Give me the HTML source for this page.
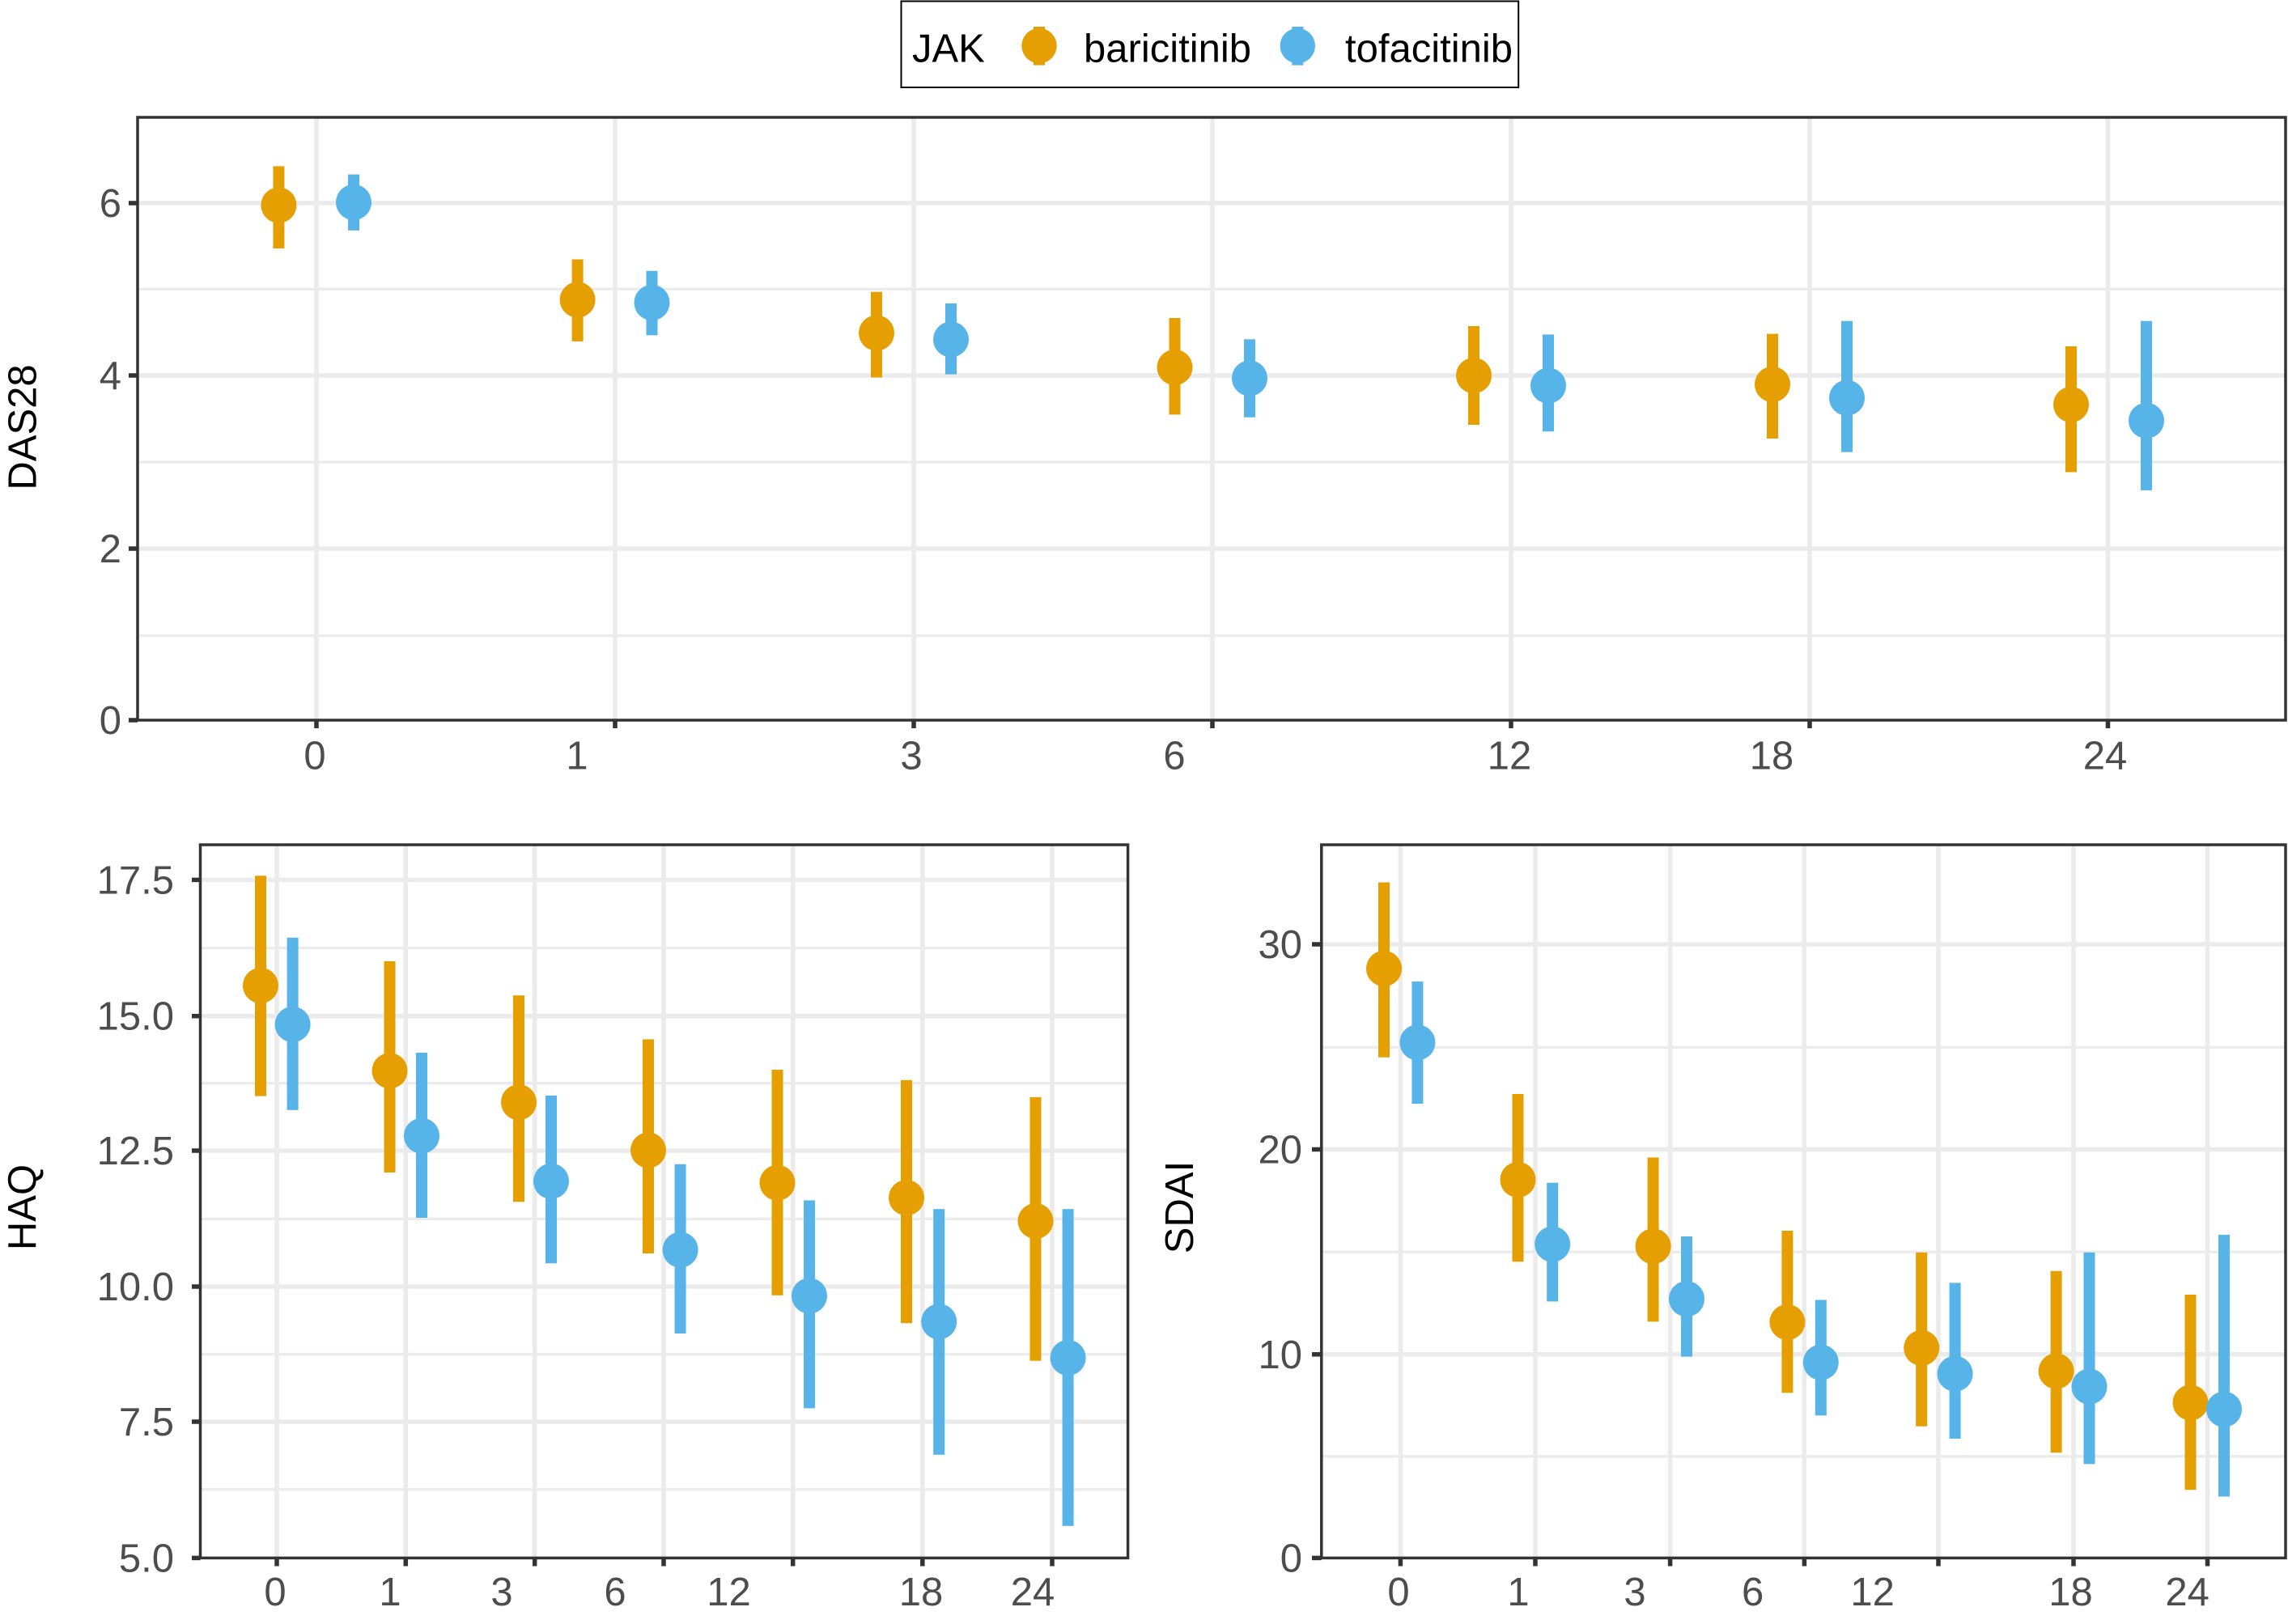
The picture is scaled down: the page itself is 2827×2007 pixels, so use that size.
<!DOCTYPE html>
<html>
<head>
<meta charset="utf-8">
<style>
html,body{margin:0;padding:0;background:#fff;}
svg{display:block;}
text{font-family:"Liberation Sans",Arial,Helvetica,sans-serif;}
</style>
</head>
<body>
<svg width="2827" height="2007" viewBox="0 0 2827 2007" xmlns="http://www.w3.org/2000/svg">
<rect x="0" y="0" width="2827" height="2007" fill="#fff"/>

<!-- ===== Legend ===== -->
<rect x="1113.5" y="1.5" width="762.7" height="106.5" fill="#fff" stroke="#000" stroke-width="2"/>
<text x="1127" y="76.5" font-size="49" fill="#000">JAK</text>
<rect x="1277" y="33" width="14" height="47.6" fill="#E69F00"/>
<circle cx="1284" cy="56.6" r="21.7" fill="#E69F00"/>
<text x="1339" y="76.5" font-size="49" fill="#000">baricitinib</text>
<rect x="1596.3" y="33" width="14" height="47.6" fill="#56B4E9"/>
<circle cx="1603.3" cy="56.6" r="21.7" fill="#56B4E9"/>
<text x="1662" y="76.5" font-size="49" fill="#000">tofacitinib</text>

<!-- ===== Top panel (DAS28) ===== -->
<g stroke="#EBEBEB">
  <g stroke-width="3.3">
    <line x1="170" y1="785.7" x2="2824" y2="785.7"/>
    <line x1="170" y1="571" x2="2824" y2="571"/>
    <line x1="170" y1="357.3" x2="2824" y2="357.3"/>
  </g>
  <g stroke-width="5.5">
    <line x1="170" y1="678" x2="2824" y2="678"/>
    <line x1="170" y1="464" x2="2824" y2="464"/>
    <line x1="170" y1="251" x2="2824" y2="251"/>
    <line x1="391" y1="145" x2="391" y2="890"/>
    <line x1="760" y1="145" x2="760" y2="890"/>
    <line x1="1129" y1="145" x2="1129" y2="890"/>
    <line x1="1498" y1="145" x2="1498" y2="890"/>
    <line x1="1867" y1="145" x2="1867" y2="890"/>
    <line x1="2236" y1="145" x2="2236" y2="890"/>
    <line x1="2604.5" y1="145" x2="2604.5" y2="890"/>
  </g>
</g>
<g fill="#E69F00">
  <rect x="337.4" y="205.4" width="14" height="101.6"/><circle cx="344.4" cy="253.6" r="22"/>
  <rect x="706.6" y="320.5" width="14" height="101.4"/><circle cx="713.6" cy="370.5" r="22"/>
  <rect x="1076" y="360.7" width="14" height="105.8"/><circle cx="1083" cy="411.6" r="22"/>
  <rect x="1444.5" y="393" width="14" height="119.4"/><circle cx="1451.5" cy="454" r="22"/>
  <rect x="1814" y="403" width="14" height="122"/><circle cx="1821" cy="464.1" r="22"/>
  <rect x="2183" y="412.6" width="14" height="129.4"/><circle cx="2190" cy="475" r="22"/>
  <rect x="2552" y="428" width="14" height="155.5"/><circle cx="2559" cy="500" r="22"/>
</g>
<g fill="#56B4E9">
  <rect x="430" y="215.6" width="14" height="69.2"/><circle cx="437" cy="250" r="22"/>
  <rect x="798.5" y="334.8" width="14" height="79.5"/><circle cx="805.5" cy="374" r="22"/>
  <rect x="1168" y="375" width="14" height="87.6"/><circle cx="1175" cy="419.5" r="22"/>
  <rect x="1537" y="419.3" width="14" height="96.4"/><circle cx="1544" cy="467.4" r="22"/>
  <rect x="1906" y="413.4" width="14" height="119.8"/><circle cx="1913" cy="476.6" r="22"/>
  <rect x="2275" y="396.7" width="14" height="162"/><circle cx="2282" cy="491.7" r="22"/>
  <rect x="2645" y="396.7" width="14" height="209.2"/><circle cx="2652" cy="519.8" r="22"/>
</g>
<rect x="170" y="145" width="2654" height="745" fill="none" stroke="#333333" stroke-width="3.5"/>
<g stroke="#333333" stroke-width="5.5">
  <line x1="159" y1="890" x2="170" y2="890"/>
  <line x1="159" y1="678" x2="170" y2="678"/>
  <line x1="159" y1="464" x2="170" y2="464"/>
  <line x1="159" y1="251" x2="170" y2="251"/>
  <line x1="391" y1="890" x2="391" y2="900"/>
  <line x1="760" y1="890" x2="760" y2="900"/>
  <line x1="1129" y1="890" x2="1129" y2="900"/>
  <line x1="1498" y1="890" x2="1498" y2="900"/>
  <line x1="1867" y1="890" x2="1867" y2="900"/>
  <line x1="2236" y1="890" x2="2236" y2="900"/>
  <line x1="2604.5" y1="890" x2="2604.5" y2="900"/>
</g>
<g font-size="49" fill="#4D4D4D" text-anchor="end">
  <text x="150" y="907">0</text>
  <text x="150" y="695">2</text>
  <text x="150" y="481">4</text>
  <text x="150" y="268">6</text>
</g>
<g font-size="49" fill="#4D4D4D" text-anchor="middle">
  <text x="389" y="950.5">0</text>
  <text x="713" y="950.5">1</text>
  <text x="1126" y="950.5">3</text>
  <text x="1451" y="950.5">6</text>
  <text x="1865" y="950.5">12</text>
  <text x="2189" y="950.5">18</text>
  <text x="2601" y="950.5">24</text>
</g>
<text transform="translate(44.5,528) rotate(-90)" font-size="49" fill="#000" text-anchor="middle">DAS28</text>

<!-- ===== Bottom-left panel (HAQ) ===== -->
<g stroke="#EBEBEB">
  <g stroke-width="3.3">
    <line x1="247.5" y1="1171.5" x2="1393.6" y2="1171.5"/>
    <line x1="247.5" y1="1338.7" x2="1393.6" y2="1338.7"/>
    <line x1="247.5" y1="1506.3" x2="1393.6" y2="1506.3"/>
    <line x1="247.5" y1="1673.5" x2="1393.6" y2="1673.5"/>
    <line x1="247.5" y1="1840.7" x2="1393.6" y2="1840.7"/>
  </g>
  <g stroke-width="5.5">
    <line x1="247.5" y1="1087.4" x2="1393.6" y2="1087.4"/>
    <line x1="247.5" y1="1255.7" x2="1393.6" y2="1255.7"/>
    <line x1="247.5" y1="1422" x2="1393.6" y2="1422"/>
    <line x1="247.5" y1="1590" x2="1393.6" y2="1590"/>
    <line x1="247.5" y1="1757" x2="1393.6" y2="1757"/>
    <line x1="342" y1="1044" x2="342" y2="1925.4"/>
    <line x1="501.3" y1="1044" x2="501.3" y2="1925.4"/>
    <line x1="660.7" y1="1044" x2="660.7" y2="1925.4"/>
    <line x1="820" y1="1044" x2="820" y2="1925.4"/>
    <line x1="979.7" y1="1044" x2="979.7" y2="1925.4"/>
    <line x1="1139.8" y1="1044" x2="1139.8" y2="1925.4"/>
    <line x1="1300" y1="1044" x2="1300" y2="1925.4"/>
  </g>
</g>
<g fill="#E69F00">
  <rect x="315" y="1082.3" width="14" height="272.3"/><circle cx="322" cy="1218" r="22"/>
  <rect x="474.5" y="1188" width="14" height="261"/><circle cx="481.5" cy="1323.3" r="22"/>
  <rect x="634" y="1230.2" width="14" height="255.1"/><circle cx="641" cy="1362.2" r="22"/>
  <rect x="794" y="1284.4" width="14" height="264.6"/><circle cx="801" cy="1421.5" r="22"/>
  <rect x="953.5" y="1322" width="14" height="278.8"/><circle cx="960.5" cy="1461.7" r="22"/>
  <rect x="1113" y="1334.8" width="14" height="300.4"/><circle cx="1120" cy="1480.2" r="22"/>
  <rect x="1272.5" y="1355.9" width="14" height="325.8"/><circle cx="1279.5" cy="1509" r="22"/>
</g>
<g fill="#56B4E9">
  <rect x="354.6" y="1158.8" width="14" height="213"/><circle cx="361.6" cy="1266" r="22"/>
  <rect x="514" y="1301" width="14" height="204"/><circle cx="521" cy="1403.7" r="22"/>
  <rect x="674" y="1354" width="14" height="207.2"/><circle cx="681" cy="1459.8" r="22"/>
  <rect x="833.6" y="1438.8" width="14" height="209.2"/><circle cx="840.6" cy="1544.6" r="22"/>
  <rect x="993" y="1483.4" width="14" height="257"/><circle cx="1000" cy="1601.4" r="22"/>
  <rect x="1153.2" y="1494.2" width="14" height="303.6"/><circle cx="1160.2" cy="1633.3" r="22"/>
  <rect x="1312.6" y="1494.2" width="14" height="391.6"/><circle cx="1319.6" cy="1678" r="22"/>
</g>
<rect x="247.5" y="1044" width="1146.1" height="881.4" fill="none" stroke="#333333" stroke-width="3.5"/>
<g stroke="#333333" stroke-width="5.5">
  <line x1="237" y1="1087.4" x2="247.5" y2="1087.4"/>
  <line x1="237" y1="1255.7" x2="247.5" y2="1255.7"/>
  <line x1="237" y1="1422" x2="247.5" y2="1422"/>
  <line x1="237" y1="1590" x2="247.5" y2="1590"/>
  <line x1="237" y1="1757" x2="247.5" y2="1757"/>
  <line x1="237" y1="1925.4" x2="247.5" y2="1925.4"/>
  <line x1="342" y1="1925.4" x2="342" y2="1935.5"/>
  <line x1="501.3" y1="1925.4" x2="501.3" y2="1935.5"/>
  <line x1="660.7" y1="1925.4" x2="660.7" y2="1935.5"/>
  <line x1="820" y1="1925.4" x2="820" y2="1935.5"/>
  <line x1="979.7" y1="1925.4" x2="979.7" y2="1935.5"/>
  <line x1="1139.8" y1="1925.4" x2="1139.8" y2="1935.5"/>
  <line x1="1300" y1="1925.4" x2="1300" y2="1935.5"/>
</g>
<g font-size="49" fill="#4D4D4D" text-anchor="end">
  <text x="215" y="1104.4">17.5</text>
  <text x="215" y="1272.7">15.0</text>
  <text x="215" y="1439">12.5</text>
  <text x="215" y="1607">10.0</text>
  <text x="215" y="1774">7.5</text>
  <text x="215" y="1942.4">5.0</text>
</g>
<g font-size="49" fill="#4D4D4D" text-anchor="middle">
  <text x="340" y="1984">0</text>
  <text x="482" y="1984">1</text>
  <text x="620" y="1984">3</text>
  <text x="760" y="1984">6</text>
  <text x="900.5" y="1984">12</text>
  <text x="1138" y="1984">18</text>
  <text x="1276" y="1984">24</text>
</g>
<text transform="translate(44,1492) rotate(-90)" font-size="49" fill="#000" text-anchor="middle">HAQ</text>

<!-- ===== Bottom-right panel (SDAI) ===== -->
<g stroke="#EBEBEB">
  <g stroke-width="3.3">
    <line x1="1632.8" y1="1294.3" x2="2824" y2="1294.3"/>
    <line x1="1632.8" y1="1547.2" x2="2824" y2="1547.2"/>
    <line x1="1632.8" y1="1799.8" x2="2824" y2="1799.8"/>
  </g>
  <g stroke-width="5.5">
    <line x1="1632.8" y1="1167" x2="2824" y2="1167"/>
    <line x1="1632.8" y1="1420.5" x2="2824" y2="1420.5"/>
    <line x1="1632.8" y1="1673.8" x2="2824" y2="1673.8"/>
    <line x1="1730.4" y1="1044" x2="1730.4" y2="1925.4"/>
    <line x1="1897" y1="1044" x2="1897" y2="1925.4"/>
    <line x1="2063.6" y1="1044" x2="2063.6" y2="1925.4"/>
    <line x1="2229.4" y1="1044" x2="2229.4" y2="1925.4"/>
    <line x1="2395" y1="1044" x2="2395" y2="1925.4"/>
    <line x1="2562" y1="1044" x2="2562" y2="1925.4"/>
    <line x1="2727.5" y1="1044" x2="2727.5" y2="1925.4"/>
  </g>
</g>
<g fill="#E69F00">
  <rect x="1703" y="1090.5" width="14" height="216.2"/><circle cx="1710" cy="1197" r="22"/>
  <rect x="1868.5" y="1352" width="14" height="207.3"/><circle cx="1875.5" cy="1457.9" r="22"/>
  <rect x="2035.6" y="1430.5" width="14" height="202.8"/><circle cx="2042.6" cy="1540.2" r="22"/>
  <rect x="2201.4" y="1521" width="14" height="200.3"/><circle cx="2208.4" cy="1634" r="22"/>
  <rect x="2367.2" y="1547.8" width="14" height="214.9"/><circle cx="2374.2" cy="1665.8" r="22"/>
  <rect x="2533.6" y="1570.8" width="14" height="224.5"/><circle cx="2540.6" cy="1694.5" r="22"/>
  <rect x="2699.5" y="1600" width="14" height="241.2"/><circle cx="2706.5" cy="1733.4" r="22"/>
</g>
<g fill="#56B4E9">
  <rect x="1744.4" y="1213" width="14" height="151"/><circle cx="1751.4" cy="1288.3" r="22"/>
  <rect x="1911.2" y="1461.7" width="14" height="146.7"/><circle cx="1918.2" cy="1537.6" r="22"/>
  <rect x="2077" y="1528" width="14" height="148.6"/><circle cx="2084" cy="1605.2" r="22"/>
  <rect x="2242.8" y="1606.5" width="14" height="142.8"/><circle cx="2249.8" cy="1683.7" r="22"/>
  <rect x="2408.6" y="1585.4" width="14" height="192.6"/><circle cx="2415.6" cy="1697.7" r="22"/>
  <rect x="2574.5" y="1547.8" width="14" height="261.5"/><circle cx="2581.5" cy="1713.6" r="22"/>
  <rect x="2741" y="1526" width="14" height="323.5"/><circle cx="2748" cy="1741.7" r="22"/>
</g>
<rect x="1632.8" y="1044" width="1191.2" height="881.4" fill="none" stroke="#333333" stroke-width="3.5"/>
<g stroke="#333333" stroke-width="5.5">
  <line x1="1621" y1="1167" x2="1632.8" y2="1167"/>
  <line x1="1621" y1="1420.5" x2="1632.8" y2="1420.5"/>
  <line x1="1621" y1="1673.8" x2="1632.8" y2="1673.8"/>
  <line x1="1621" y1="1925.4" x2="1632.8" y2="1925.4"/>
  <line x1="1730.4" y1="1925.4" x2="1730.4" y2="1935.5"/>
  <line x1="1897" y1="1925.4" x2="1897" y2="1935.5"/>
  <line x1="2063.6" y1="1925.4" x2="2063.6" y2="1935.5"/>
  <line x1="2229.4" y1="1925.4" x2="2229.4" y2="1935.5"/>
  <line x1="2395" y1="1925.4" x2="2395" y2="1935.5"/>
  <line x1="2562" y1="1925.4" x2="2562" y2="1935.5"/>
  <line x1="2727.5" y1="1925.4" x2="2727.5" y2="1935.5"/>
</g>
<g font-size="49" fill="#4D4D4D" text-anchor="end">
  <text x="1609" y="1184">30</text>
  <text x="1609" y="1437.5">20</text>
  <text x="1609" y="1690.8">10</text>
  <text x="1609" y="1942.4">0</text>
</g>
<g font-size="49" fill="#4D4D4D" text-anchor="middle">
  <text x="1728" y="1984">0</text>
  <text x="1876" y="1984">1</text>
  <text x="2020" y="1984">3</text>
  <text x="2165.6" y="1984">6</text>
  <text x="2313.6" y="1984">12</text>
  <text x="2558.5" y="1984">18</text>
  <text x="2702.6" y="1984">24</text>
</g>
<text transform="translate(1474,1492) rotate(-90)" font-size="49" fill="#000" text-anchor="middle">SDAI</text>
</svg>
</body>
</html>
